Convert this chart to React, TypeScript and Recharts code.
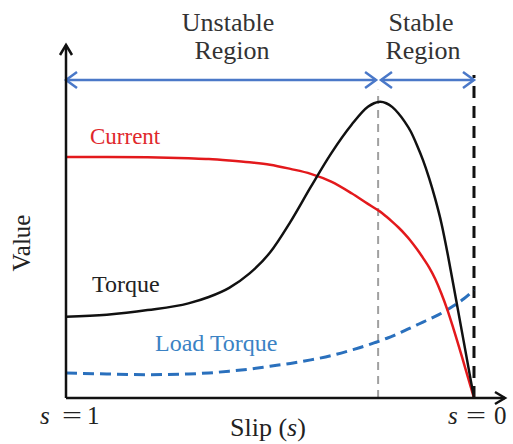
import React from 'react';
import { LineChart, Line, XAxis, YAxis, ReferenceLine, Customized } from 'recharts';

// slip values (s = 1 at left, s = 0 at right)
const slip = [1, 0.9, 0.8, 0.7, 0.65, 0.6, 0.55, 0.5, 0.45, 0.4, 0.35, 0.3, 0.26, 0.245, 0.23, 0.215, 0.2, 0.185, 0.17, 0.155, 0.14, 0.125, 0.11, 0.095, 0.08, 0.065, 0.05, 0.025, 0];
const torque = [23.0, 23.6, 24.9, 26.8, 28.6, 31.2, 35.3, 41.2, 49.9, 59.8, 69.3, 77.4, 82.5, 83.5, 83.9, 83.5, 82.4, 80.6, 78.3, 75.5, 71.7, 67.4, 62.3, 56.4, 49.6, 41.1, 31.7, 15.9, 0];
const current = [68.3, 68.3, 68.2, 67.9, 67.7, 67.3, 66.8, 66.1, 64.9, 63.5, 61.3, 58.0, 55.0, 53.9, 52.8, 51.4, 49.9, 48.3, 46.5, 44.5, 42.2, 39.7, 37.0, 33.7, 29.6, 24.9, 19.5, 9.9, 0];
const loadTorque = [7.1, 6.8, 6.6, 6.8, 7.1, 7.6, 8.2, 9.0, 9.8, 10.8, 12.0, 13.6, 15.0, 15.6, 16.2, 16.85, 17.5, 18.3, 19.1, 19.9, 20.7, 21.5, 22.3, 23.1, 24.0, 25.0, 26.1, 28.1, 30.6];

const peakSlip = 0.235;
const regionArrowValue = 90.1;

const data = slip.map((s, i) => ({ s, torque: torque[i], current: current[i], load: loadTorque[i] }));

const FONT = '"Liberation Serif", "Times New Roman", serif';

function chevron(tx: number, ty: number, dx: number, dy: number, L: number, W: number) {
  const len = Math.hypot(dx, dy) || 1;
  const ux = dx / len, uy = dy / len;
  const nx = -uy, ny = ux;
  return `${tx - L * ux + W * nx},${ty - L * uy + W * ny} ${tx},${ty} ${tx - L * ux - W * nx},${ty - L * uy - W * ny}`;
}

const makeArrow = (color: string, width: number, L: number, W: number, both: boolean) => (p: any) => {
  const { x1, y1, x2, y2 } = p;
  return (
    <g>
      <line x1={x1} y1={y1} x2={x2} y2={y2} stroke={color} strokeWidth={width} />
      <polyline points={chevron(x2, y2, x2 - x1, y2 - y1, L, W)} fill="none" stroke={color} strokeWidth={width} strokeLinejoin="miter" />
      {both && (
        <polyline points={chevron(x1, y1, x1 - x2, y1 - y2, L, W)} fill="none" stroke={color} strokeWidth={width} strokeLinejoin="miter" />
      )}
    </g>
  );
};

const Texts = () => (
  <g fontFamily={FONT}>
    <text x={228} y={31} textAnchor="middle" fontSize={26} fill="#333">Unstable</text>
    <text x={232} y={59} textAnchor="middle" fontSize={26} fill="#333">Region</text>
    <text x={421} y={31} textAnchor="middle" fontSize={26} fill="#333">Stable</text>
    <text x={423} y={59} textAnchor="middle" fontSize={26} fill="#333">Region</text>
    <text x={90} y={144} fontSize={23} fill="#e0282c">Current</text>
    <text x={92} y={292} fontSize={24} fill="#222">Torque</text>
    <text x={155} y={351} fontSize={24} fill="#3b82c4">Load Torque</text>
    <text x={0} y={0} transform="translate(30,243) rotate(-90)" textAnchor="middle" fontSize={25} fill="#222">Value</text>
    <text x={40} y={424} fontSize={25} fontStyle="italic" fill="#222">s</text>
    <text x={62} y={424} fontSize={25} fill="#222" textLength={20} lengthAdjust="spacingAndGlyphs">=</text>
    <text x={87} y={424} fontSize={25} fill="#222">1</text>
    <text x={230} y={436} fontSize={26} fill="#222">Slip (<tspan fontStyle="italic">s</tspan>)</text>
    <text x={448} y={424} fontSize={25} fontStyle="italic" fill="#222">s</text>
    <text x={466} y={424} fontSize={25} fill="#222" textLength={20} lengthAdjust="spacingAndGlyphs">=</text>
    <text x={494} y={424} fontSize={25} fill="#222">0</text>
  </g>
);

export default function App() {
  return (
    <div style={{ position: 'absolute', left: 0, top: 0, background: '#fff' }}>
      <LineChart width={513} height={444} data={data} margin={{ top: 45, right: 8, bottom: 46, left: 66 }}>
        <XAxis type="number" dataKey="s" domain={[-0.076, 1]} reversed hide allowDataOverflow />
        <YAxis type="number" domain={[0, 100]} hide allowDataOverflow />
        <ReferenceLine segment={[{ x: peakSlip, y: 0 }, { x: peakSlip, y: 87.3 }]} stroke="#a0a0a0" strokeWidth={2} strokeDasharray="8 6" />
        <ReferenceLine segment={[{ x: 0, y: 0 }, { x: 0, y: 91.5 }]} stroke="#111" strokeWidth={3} strokeDasharray="12 8" />
        <Line dataKey="load" type="monotone" stroke="#2a70bd" strokeWidth={3} strokeDasharray="11 6" dot={false} isAnimationActive={false} />
        <Line dataKey="current" type="monotone" stroke="#e3191c" strokeWidth={2.5} dot={false} isAnimationActive={false} />
        <Line dataKey="torque" type="monotone" stroke="#111" strokeWidth={2.5} dot={false} isAnimationActive={false} />
        <ReferenceLine segment={[{ x: 1, y: regionArrowValue }, { x: 0.24, y: regionArrowValue }]} shape={makeArrow('#4a78c8', 2.5, 11, 8, true)} />
        <ReferenceLine segment={[{ x: 0.228, y: regionArrowValue }, { x: 0, y: regionArrowValue }]} shape={makeArrow('#4a78c8', 2.5, 11, 8, true)} />
        <ReferenceLine segment={[{ x: 1, y: 0 }, { x: 1, y: 100 }]} shape={makeArrow('#111', 2.5, 10, 6, false)} />
        <ReferenceLine segment={[{ x: 1, y: 0 }, { x: -0.076, y: 0 }]} shape={makeArrow('#111', 2.5, 10, 6, false)} />
        <Customized component={Texts} />
      </LineChart>
    </div>
  );
}
